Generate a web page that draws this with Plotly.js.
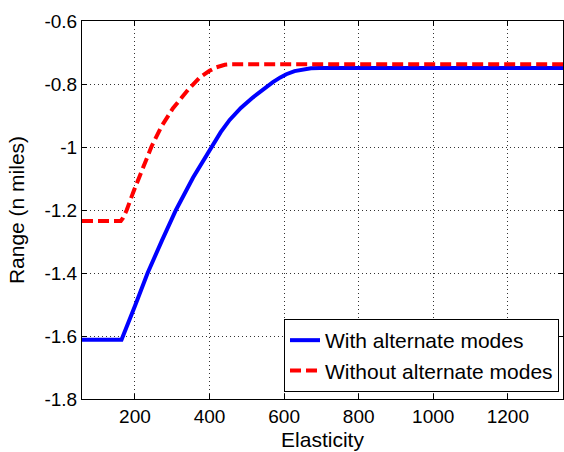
<!DOCTYPE html>
<html>
<head>
<meta charset="utf-8">
<script src="https://cdn.plot.ly/plotly-3.0.1.min.js"></script>
<style>html,body{margin:0;padding:0;background:#fff;}#chart{width:564px;height:452px;}</style>
</head>
<body>
<div id="chart"></div>
<script>
const withX = [58, 164, 200, 234, 272, 310, 356, 404, 430, 454, 484, 516, 543, 570, 590, 606, 628, 650, 672, 695, 1348];
const withY = [-1.612, -1.612, -1.505, -1.4, -1.298, -1.2, -1.097, -1.0, -0.953, -0.914, -0.876, -0.843, -0.817, -0.794, -0.779, -0.769, -0.759, -0.753, -0.750, -0.749, -0.749];
const withoutX = [58, 162, 168, 178, 195, 210, 225, 245, 271, 302, 342, 374, 400, 418, 441, 460, 1348];
const withoutY = [-1.235, -1.235, -1.225, -1.2, -1.145, -1.1, -1.055, -0.997, -0.935, -0.877, -0.819, -0.779, -0.758, -0.747, -0.739, -0.737, -0.737];
const seriesNames = ["With alternate modes", "Without alternate modes"];
const xTicks = [200, 400, 600, 800, 1000, 1200];
const yTicks = [-1.8, -1.6, -1.4, -1.2, -1, -0.8, -0.6];
const yTickText = ["-1.8", "-1.6", "-1.4", "-1.2", "-1", "-0.8", "-0.6"];

const font = "Liberation Sans, Arial, sans-serif";
const traces = [
  {x: withX, y: withY, name: seriesNames[0], mode: "lines", line: {color: "#0000ff", width: 4}},
  {x: withoutX, y: withoutY, name: seriesNames[1], mode: "lines", line: {color: "#ff0000", width: 4, dash: "11px,5px"}}
];
const axisCommon = {
  showline: true, linecolor: "#000", linewidth: 1, mirror: "ticks",
  ticks: "inside", ticklen: 5, tickcolor: "#000",
  showgrid: true, gridcolor: "#333", griddash: "1px,3px", gridwidth: 1,
  zeroline: false, tickfont: {family: font, size: 19, color: "#000"}
};
const layout = {
  width: 564, height: 452,
  margin: {l: 82, r: 1, t: 21, b: 53},
  paper_bgcolor: "#fff", plot_bgcolor: "#fff",
  showlegend: true,
  legend: {x: 0.9917, xanchor: "right", y: 0.0185, yanchor: "bottom",
    bgcolor: "#fff", bordercolor: "#000", borderwidth: 1,
    font: {family: font, size: 21, color: "#000"}, tracegroupgap: 0},
  xaxis: Object.assign({}, axisCommon, {range: [58, 1348], tickvals: xTicks,
    title: {text: "Elasticity", font: {family: font, size: 21, color: "#000"}, standoff: 6}}),
  yaxis: Object.assign({}, axisCommon, {range: [-1.8, -0.6], tickvals: yTicks, ticktext: yTickText,
    title: {text: "Range (n miles)", font: {family: font, size: 21, color: "#000"}, standoff: 14}})
};
Plotly.newPlot("chart", traces, layout, {displayModeBar: false, staticPlot: true});
</script>
</body>
</html>
